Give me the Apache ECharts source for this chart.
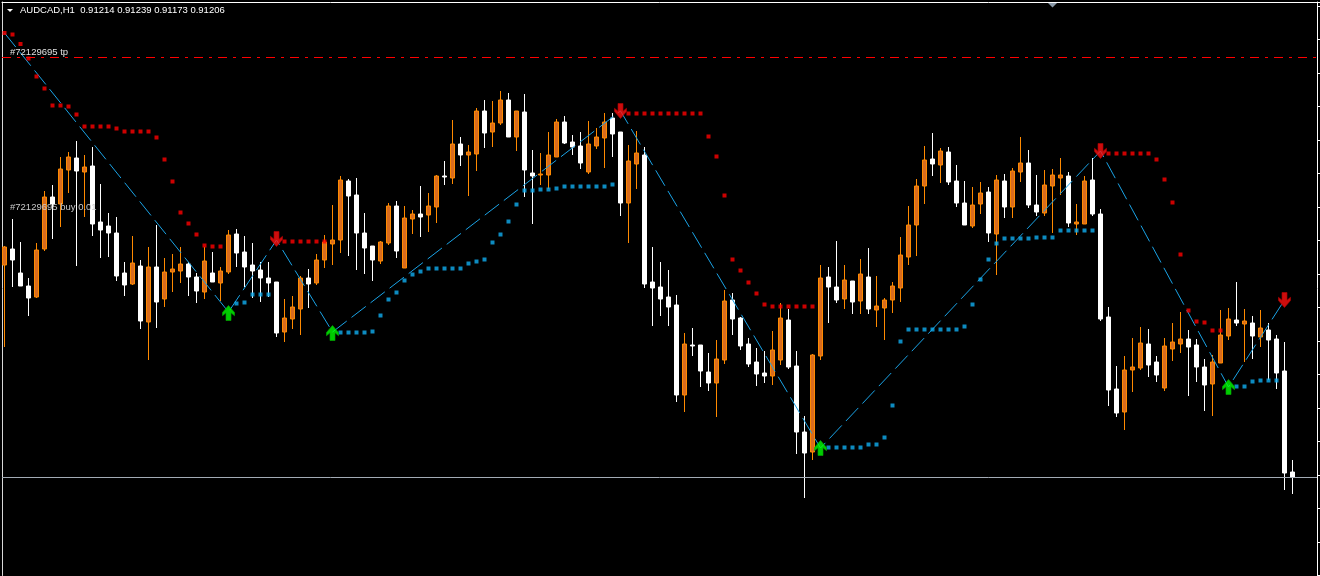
<!DOCTYPE html>
<html><head><meta charset="utf-8">
<script src="https://cdn.jsdelivr.net/npm/echarts@6/dist/echarts.min.js"></script>
<style>html,body{margin:0;padding:0;background:#000;}#c{width:1320px;height:576px;}</style>
</head><body><div id="c"></div>
<script>
const headerText = 'AUDCAD,H1  0.91214 0.91239 0.91173 0.91206';

const open = [0.91607,0.91639,0.91591,0.91565,0.91543,0.91639,0.91743,0.91729,0.91797,0.91821,
 0.91793,0.91805,0.91693,0.91685,0.91671,0.91591,0.91569,0.91605,0.91493,0.91603,
 0.91539,0.91593,0.91595,0.91609,0.91583,0.91553,0.91591,0.91571,0.91593,0.91669,
 0.91633,0.91607,0.91597,0.91581,0.91573,0.91473,0.91499,0.91519,0.91581,0.91571,
 0.91617,0.91649,0.91657,0.91775,0.91747,0.91671,0.91645,0.91615,0.91651,0.91725,
 0.91601,0.91699,0.91709,0.91707,0.91723,0.91785,0.91781,0.91849,0.91827,0.91829,
 0.91915,0.91873,0.91891,0.91937,0.91863,0.91913,0.91791,0.91787,0.91787,0.91823,
 0.91893,0.91853,0.91845,0.91793,0.91845,0.91861,0.91901,0.91873,0.91731,0.91809,
 0.91827,0.91573,0.91563,0.91543,0.91527,0.91347,0.91447,0.91447,0.91393,0.91371,
 0.91417,0.91537,0.91501,0.91449,0.91413,0.91391,0.91385,0.91417,0.91497,0.91405,
 0.91273,0.91233,0.91425,0.91583,0.91563,0.91539,0.91575,0.91535,0.91583,0.91517,
 0.91521,0.91537,0.91561,0.91623,0.91687,0.91765,0.91819,0.91807,0.91833,0.91775,
 0.91731,0.91685,0.91729,0.91753,0.91669,0.91775,0.91723,0.91793,0.91811,0.91727,
 0.91711,0.91765,0.91781,0.91785,0.91689,0.91689,0.91777,0.91709,0.91503,0.91359,
 0.91313,0.91397,0.91401,0.91449,0.91413,0.91361,0.91439,0.91449,0.91459,0.91447,
 0.91403,0.91369,0.91411,0.91465,0.91497,0.91489,0.91491,0.91463,0.91477,0.91459,
 0.91395,0.91193];

const close = [0.91643,0.91617,0.91565,0.91541,0.91637,0.91743,0.91729,0.91799,0.91823,0.91795,
 0.91803,0.91689,0.91677,0.91671,0.91585,0.91567,0.91611,0.91495,0.91603,0.91533,
 0.91593,0.91599,0.91609,0.91583,0.91555,0.91615,0.91573,0.91595,0.91667,0.91631,
 0.91603,0.91595,0.91581,0.91571,0.91471,0.91501,0.91523,0.91581,0.91569,0.91617,
 0.91653,0.91657,0.91777,0.91745,0.91671,0.91641,0.91617,0.91653,0.91725,0.91635,
 0.91701,0.91709,0.91703,0.91725,0.91785,0.91783,0.91849,0.91827,0.91833,0.91915,
 0.91871,0.91891,0.91937,0.91863,0.91915,0.91797,0.91785,0.91789,0.91827,0.91893,
 0.91851,0.91843,0.91811,0.91849,0.91863,0.91893,0.91869,0.91731,0.91815,0.91831,
 0.91569,0.91561,0.91539,0.91523,0.91347,0.91449,0.91445,0.91395,0.91371,0.91419,
 0.91535,0.91499,0.91445,0.91409,0.91389,0.91385,0.91437,0.91501,0.91403,0.91273,
 0.91231,0.91427,0.91581,0.91563,0.91537,0.91577,0.91533,0.91589,0.91519,0.91525,
 0.91537,0.91565,0.91627,0.91687,0.91765,0.91817,0.91809,0.91835,0.91773,0.91731,
 0.91687,0.91727,0.91751,0.91671,0.91777,0.91723,0.91795,0.91811,0.91727,0.91713,
 0.91767,0.91787,0.91787,0.91691,0.91693,0.91775,0.91709,0.91499,0.91357,0.91311,
 0.91397,0.91403,0.91451,0.91407,0.91387,0.91445,0.91453,0.91459,0.91443,0.91403,
 0.91367,0.91413,0.91467,0.91499,0.91491,0.91495,0.91465,0.91481,0.91457,0.91391,
 0.91191,0.91183];

const low = [0.91443,0.91563,0.91565,0.91505,0.91541,0.91635,0.91659,0.91683,0.91751,0.91605,
 0.91703,0.91665,0.91621,0.91623,0.91575,0.91545,0.91567,0.91479,0.91417,0.91481,
 0.91523,0.91553,0.91571,0.91545,0.91531,0.91539,0.91573,0.91535,0.91589,0.91603,
 0.91563,0.91541,0.91533,0.91543,0.91463,0.91453,0.91479,0.91467,0.91521,0.91567,
 0.91601,0.91607,0.91631,0.91625,0.91597,0.91589,0.91575,0.91609,0.91647,0.91621,
 0.91601,0.91669,0.91663,0.91673,0.91691,0.91767,0.91769,0.91805,0.91745,0.91795,
 0.91841,0.91843,0.91887,0.91863,0.91835,0.91743,0.91689,0.91767,0.91759,0.91823,
 0.91849,0.91827,0.91799,0.91789,0.91839,0.91801,0.91823,0.91705,0.91651,0.91759,
 0.91561,0.91485,0.91505,0.91485,0.91333,0.91313,0.91425,0.91363,0.91355,0.91303,
 0.91409,0.91467,0.91437,0.91403,0.91365,0.91371,0.91367,0.91407,0.91399,0.91229,
 0.91141,0.91217,0.91417,0.91491,0.91531,0.91519,0.91509,0.91509,0.91509,0.91483,
 0.91457,0.91511,0.91533,0.91607,0.91625,0.91729,0.91785,0.91771,0.91767,0.91723,
 0.91687,0.91681,0.91709,0.91653,0.91587,0.91701,0.91701,0.91773,0.91721,0.91705,
 0.91705,0.91671,0.91747,0.91683,0.91667,0.91689,0.91705,0.91495,0.91325,0.91303,
 0.91277,0.91353,0.91397,0.91383,0.91373,0.91355,0.91415,0.91431,0.91345,0.91373,
 0.91315,0.91305,0.91411,0.91457,0.91485,0.91413,0.91419,0.91443,0.91377,0.91359,
 0.91157,0.91149];

const high = [0.91645,0.91699,0.91653,0.91581,0.91651,0.91755,0.91767,0.91823,0.91833,0.91855,
 0.91827,0.91843,0.91769,0.91711,0.91703,0.91613,0.91665,0.91617,0.91643,0.91687,
 0.91621,0.91629,0.91643,0.91613,0.91591,0.91643,0.91633,0.91603,0.91677,0.91679,
 0.91665,0.91651,0.91613,0.91613,0.91573,0.91539,0.91545,0.91585,0.91599,0.91629,
 0.91667,0.91727,0.91785,0.91779,0.91781,0.91711,0.91645,0.91655,0.91731,0.91735,
 0.91725,0.91717,0.91765,0.91751,0.91787,0.91815,0.91897,0.91863,0.91847,0.91921,
 0.91937,0.91935,0.91955,0.91951,0.91915,0.91949,0.91837,0.91831,0.91873,0.91899,
 0.91905,0.91867,0.91873,0.91895,0.91881,0.91911,0.91911,0.91873,0.91847,0.91875,
 0.91843,0.91643,0.91613,0.91597,0.91547,0.91471,0.91481,0.91447,0.91431,0.91457,
 0.91557,0.91551,0.91503,0.91461,0.91441,0.91435,0.91475,0.91531,0.91519,0.91435,
 0.91305,0.91429,0.91607,0.91603,0.91655,0.91607,0.91575,0.91619,0.91641,0.91585,
 0.91541,0.91573,0.91663,0.91725,0.91779,0.91845,0.91871,0.91841,0.91843,0.91807,
 0.91775,0.91763,0.91773,0.91763,0.91787,0.91789,0.91801,0.91863,0.91837,0.91787,
 0.91797,0.91799,0.91821,0.91793,0.91729,0.91785,0.91821,0.91719,0.91523,0.91405,
 0.91425,0.91461,0.91483,0.91479,0.91425,0.91461,0.91491,0.91513,0.91477,0.91459,
 0.91419,0.91427,0.91517,0.91521,0.91573,0.91519,0.91505,0.91517,0.91491,0.91467,
 0.91453,0.91217];

// trailing stop dots (one value per bar, null = no dot)
const redStop = [0.92071,0.92068,0.92049,0.92020,0.91984,0.91960,0.91926,0.91926,0.91924,0.91908,
 0.91884,0.91884,0.91884,0.91884,0.91880,0.91874,0.91874,0.91874,0.91874,0.91862,
 0.91818,0.91774,0.91712,0.91690,0.91668,0.91646,0.91644,0.91644,null,null,
 null,null,null,null,null,0.91654,0.91654,0.91654,0.91654,0.91654,
 0.91654,null,null,null,null,null,null,null,null,null,
 null,null,null,null,null,null,null,null,null,null,
 null,null,null,null,null,null,null,null,null,null,
 null,null,null,null,null,null,null,null,0.91910,0.91910,
 0.91910,0.91910,0.91910,0.91910,0.91910,0.91910,0.91910,0.91910,0.91864,0.91824,
 0.91746,0.91618,0.91596,0.91572,0.91550,0.91528,0.91524,0.91524,0.91524,0.91524,
 0.91524,0.91524,null,null,null,null,null,null,null,null,
 null,null,null,null,null,null,null,null,null,null,
 null,null,null,null,null,null,null,null,null,null,
 null,null,null,null,null,null,null,null,0.91830,0.91830,
 0.91830,0.91830,0.91830,0.91830,0.91818,0.91778,0.91732,0.91628,0.91516,0.91494,
 0.91492,0.91476,0.91476,null,null,null,null,null,null,null,
 null,null];

const blueStop = [null,null,null,null,null,null,null,null,null,null,
 null,null,null,null,null,null,null,null,null,null,
 null,null,null,null,null,null,null,null,null,0.91530,
 0.91532,0.91548,0.91548,0.91548,null,null,null,null,null,null,
 null,null,0.91472,0.91472,0.91472,0.91472,0.91474,0.91506,0.91538,0.91552,
 0.91576,0.91588,0.91594,0.91600,0.91600,0.91600,0.91600,0.91600,0.91610,0.91614,
 0.91618,0.91652,0.91668,0.91694,0.91728,0.91756,0.91756,0.91758,0.91758,0.91760,
 0.91764,0.91764,0.91764,0.91764,0.91764,0.91764,0.91768,null,null,null,
 null,null,null,null,null,null,null,null,null,null,
 null,null,null,null,null,null,null,null,null,null,
 null,null,null,0.91242,0.91242,0.91242,0.91242,0.91242,0.91248,0.91248,
 0.91262,0.91326,0.91454,0.91478,0.91478,0.91478,0.91478,0.91478,0.91478,0.91478,
 0.91484,0.91528,0.91578,0.91618,0.91650,0.91660,0.91660,0.91660,0.91660,0.91662,
 0.91662,0.91662,0.91676,0.91676,0.91676,0.91676,0.91676,null,null,null,
 null,null,null,null,null,null,null,null,null,null,
 null,null,null,null,0.91364,0.91364,0.91374,0.91376,0.91376,0.91376,
 null,null];

const upArrowIdx = [28, 41, 102, 153];
const upArrowPrice = [0.91511, 0.91471, 0.91241, 0.91363];
const downArrowIdx = [34, 77, 137, 160];
const downArrowPrice = [0.91659, 0.91915, 0.91835, 0.91537];

const zigIdx = [0, 28, 34, 41, 77, 102, 137, 153, 160];
const zigPrice = [0.92071, 0.91513, 0.91657, 0.91473, 0.91915, 0.91241, 0.91835, 0.91363, 0.91537];

const tpPrice = 0.92022, tpLabel = '#72129695 tp';
const buyPrice = 0.91712, buyLabel = '#72129695 buy 0.01';

// axis scale
const yMin = 0.90986, yMax = 0.92133, yStep = 0.00067;
const xMin = -0.3125, xMax = 164.0625;

const bidPrice = close[close.length - 1];
const candles = open.map((o, i) => [i, o, close[i], low[i], high[i]]);
const redPts = []; redStop.forEach((v, i) => { if (v != null) redPts.push([i, v]); });
const bluePts = []; blueStop.forEach((v, i) => { if (v != null) bluePts.push([i, v]); });
const upPts = upArrowIdx.map((x, k) => [x, upArrowPrice[k]]);
const downPts = downArrowIdx.map((x, k) => [x, downArrowPrice[k]]);
const zigPts = zigIdx.map((x, k) => [x, zigPrice[k]]);

const FONT = 'Liberation Sans';
const upPath = 'path://M6,0 L12,6.5 L12,9.5 L8.5,6.8 L8.5,14 L3.5,14 L3.5,6.8 L0,9.5 L0,6.5 Z';
const downPath = 'path://M6,14 L12,7.5 L12,4.5 L8.5,7.2 L8.5,0 L3.5,0 L3.5,7.2 L0,4.5 L0,7.5 Z';

const chart = echarts.init(document.getElementById('c'), null, { renderer: 'canvas' });
chart.setOption({
  backgroundColor: '#000000',
  animation: false,
  title: {
    text: headerText, left: 20, top: 5, padding: 0,
    textStyle: { color: '#ffffff', fontSize: 9.5, fontWeight: 'normal', fontFamily: FONT }
  },
  graphic: [
    { type: 'polygon', shape: { points: [[7, 9], [13, 9], [10, 12]] }, style: { fill: '#ffffff' }, silent: true },
    { type: 'polygon', shape: { points: [[1048, 3], [1057, 3], [1052.5, 7.5]] }, style: { fill: '#8a99a8' }, silent: true }
  ],
  grid: { left: 2, right: 3, top: 2, bottom: 0.5, show: false, outerBoundsMode: 'none' },
  xAxis: {
    type: 'value', min: xMin, max: xMax, position: 'top',
    axisLine: { show: true, onZero: false, lineStyle: { color: '#ffffff', width: 1 } },
    axisTick: { show: false }, axisLabel: { show: false }, splitLine: { show: false }
  },
  yAxis: [
    {
      type: 'value', position: 'right', min: yMin, max: yMax, interval: yStep,
      axisLine: { show: true, onZero: false, lineStyle: { color: '#ffffff', width: 1 } },
      axisTick: { show: true, inside: false, length: 3, lineStyle: { color: '#ffffff' } },
      axisLabel: { show: false }, splitLine: { show: false }
    },
    {
      type: 'value', position: 'left', min: yMin, max: yMax, interval: yStep,
      axisLine: { show: true, onZero: false, lineStyle: { color: '#d8d8d8', width: 1 } },
      axisTick: { show: false }, axisLabel: { show: false }, splitLine: { show: false }
    }
  ],
  series: [
    {
      type: 'scatter', data: [], z: 1, silent: true,
      markLine: {
        silent: true, symbol: ['none', 'none'], animation: false, precision: 5,
        data: [
          { yAxis: tpPrice, lineStyle: { color: '#ff0000', type: [9, 6, 3, 6], width: 1 },
            label: { show: true, formatter: tpLabel, position: 'insideStartTop', distance: [8, 0],
                     color: '#e0e0e0', fontSize: 9.5, fontFamily: FONT } },
          { yAxis: buyPrice, lineStyle: { color: 'rgba(0,0,0,0)', width: 1 },
            label: { show: true, formatter: buyLabel, position: 'insideStartTop', distance: [8, 0],
                     color: '#c8c8c8', fontSize: 9.5, fontFamily: FONT } },
          { yAxis: bidPrice, lineStyle: { color: '#a3abb5', type: 'solid', width: 1 }, label: { show: false } }
        ]
      }
    },
    {
      type: 'candlestick', data: candles, z: 2, barWidth: 4,
      encode: { x: 0, y: [1, 2, 3, 4] },
      itemStyle: { color: '#d86c1e', color0: '#ffffff', borderColor: '#ff8a00', borderColor0: '#ffffff', borderWidth: 1 }
    },
    {
      type: 'line', data: zigPts, z: 3, showSymbol: false, silent: true,
      lineStyle: { color: '#1aa3e6', width: 1, type: [18, 6] }
    },
    {
      type: 'scatter', data: redPts, z: 4, symbol: 'rect', symbolSize: 4, silent: true,
      itemStyle: { color: '#ff0000' }
    },
    {
      type: 'scatter', data: bluePts, z: 4, symbol: 'rect', symbolSize: 4, silent: true,
      itemStyle: { color: '#10aef0' }
    },
    {
      type: 'scatter', data: upPts, z: 5, symbol: upPath, symbolSize: [12, 15], silent: true,
      itemStyle: { color: '#00ff00', borderColor: '#00a800', borderWidth: 0.8 }
    },
    {
      type: 'scatter', data: downPts, z: 5, symbol: downPath, symbolSize: [12, 15], silent: true,
      itemStyle: { color: '#ff1010', borderColor: '#b00000', borderWidth: 0.8 }
    }
  ]
});
</script>
</body></html>
